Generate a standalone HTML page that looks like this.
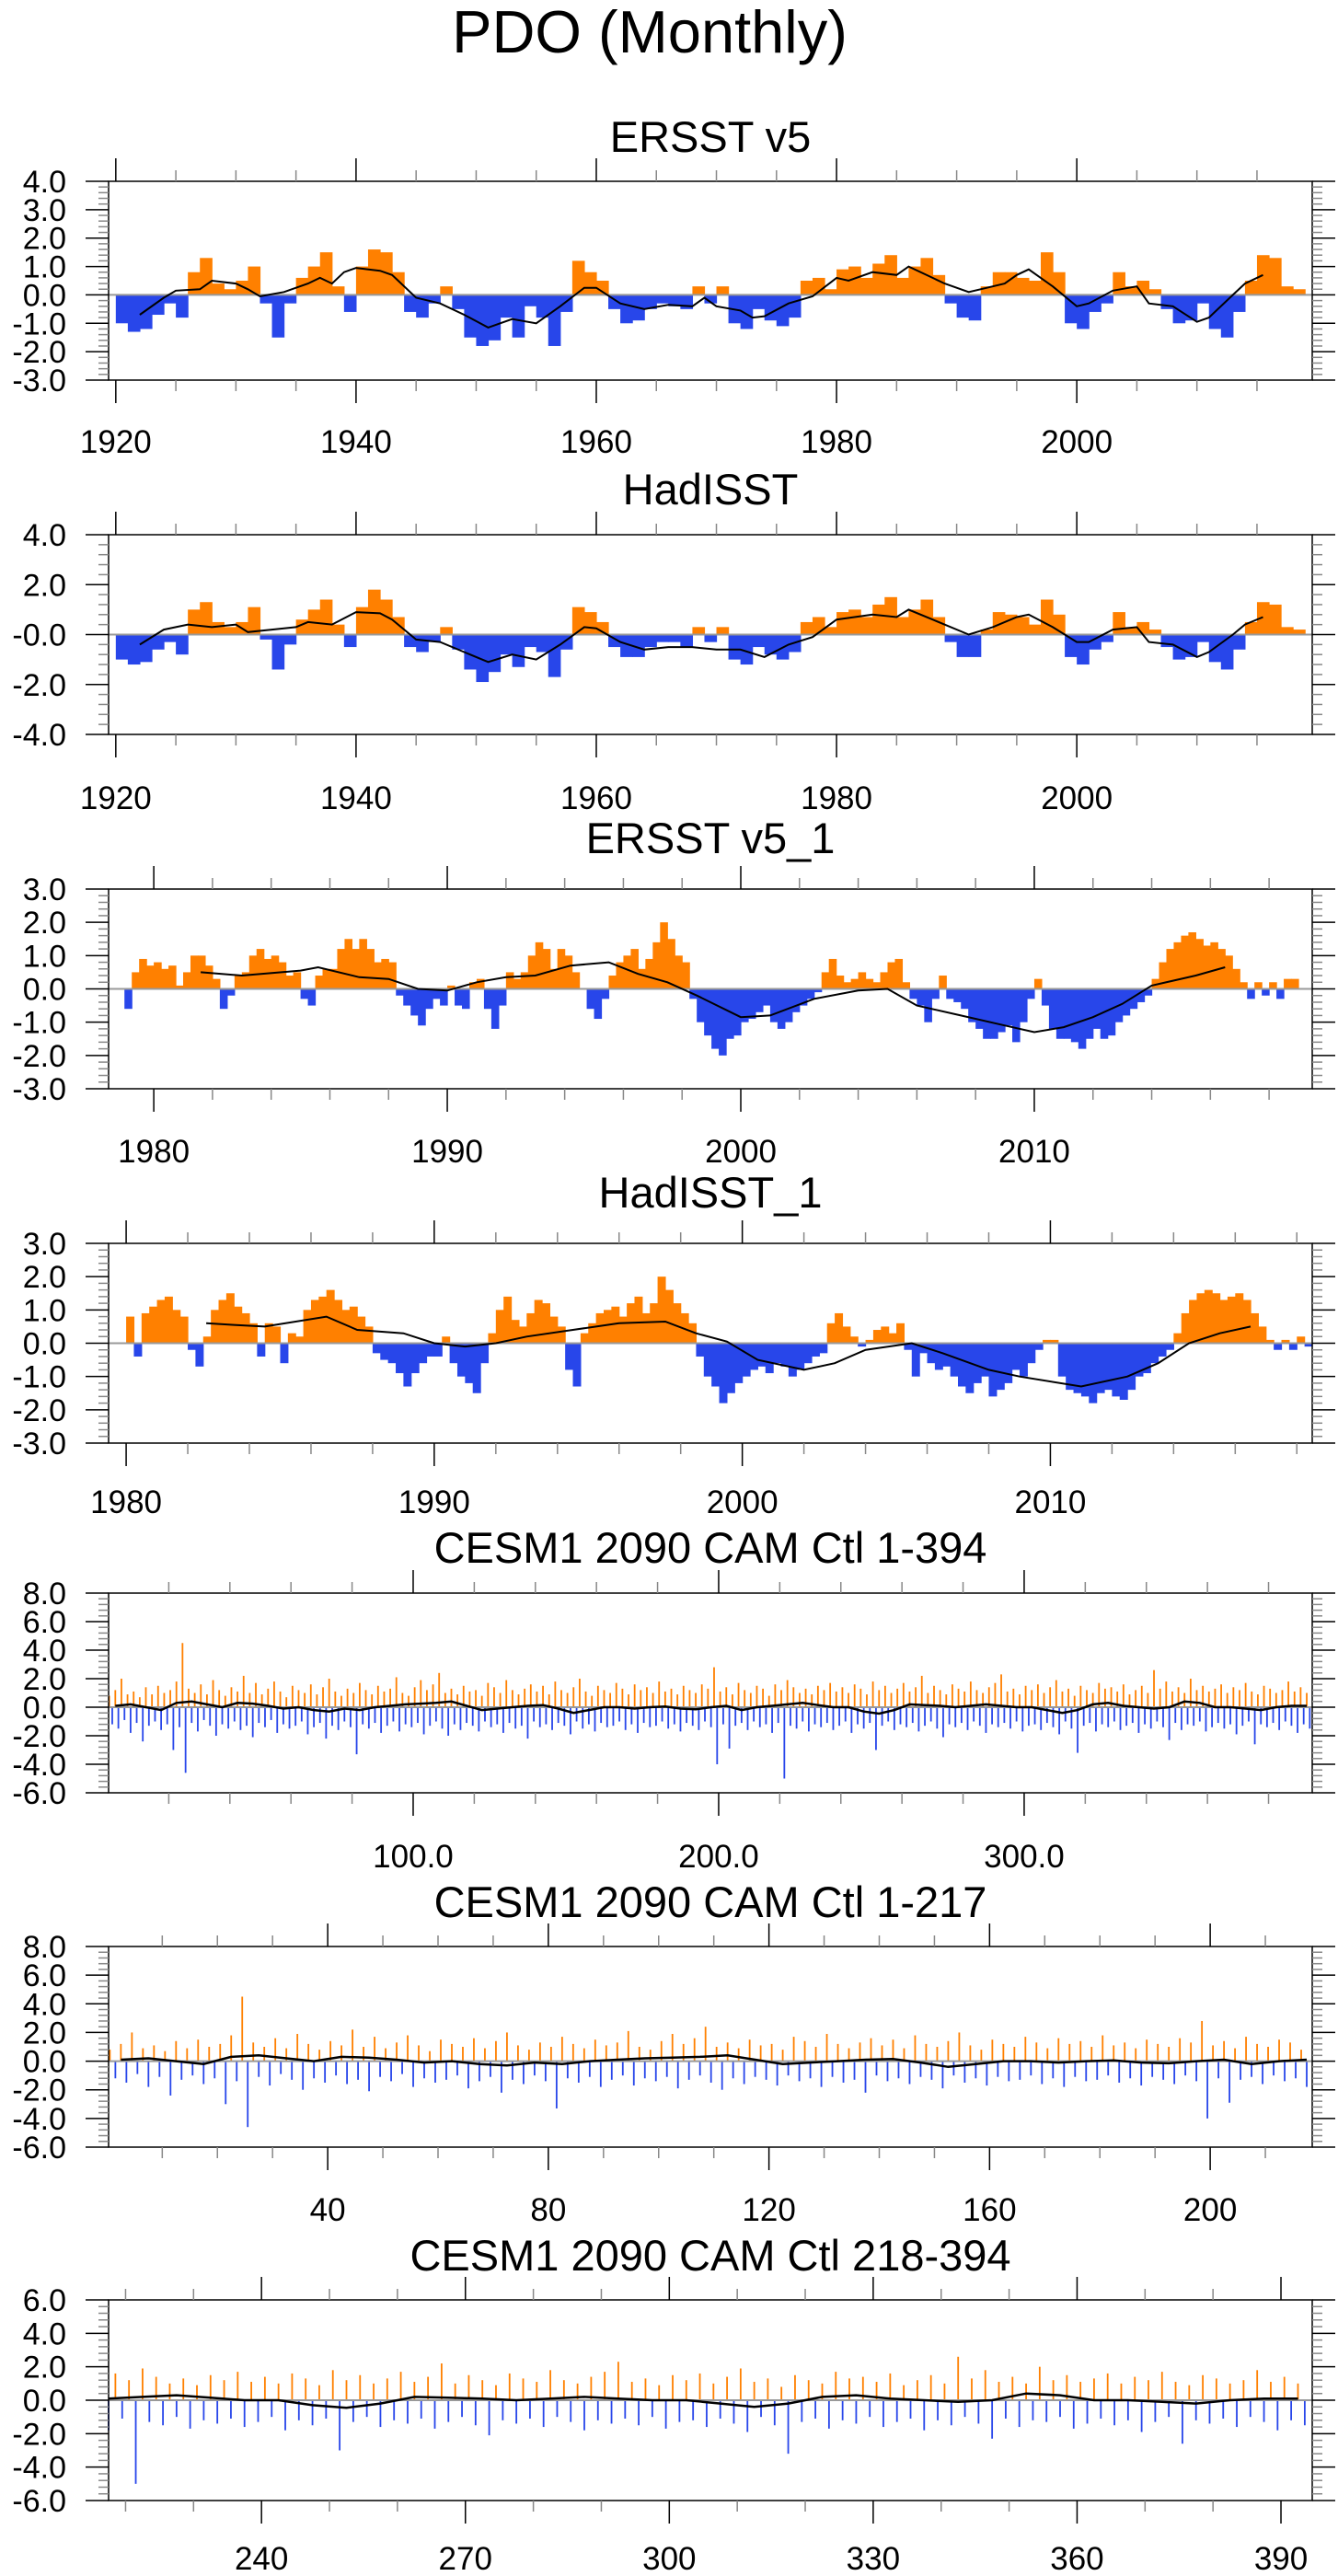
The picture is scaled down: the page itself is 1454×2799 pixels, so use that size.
<!DOCTYPE html>
<html><head><meta charset="utf-8"><style>
html,body{margin:0;padding:0;background:#fff}
svg{display:block}
text{font-family:"Liberation Sans",Arial,sans-serif;fill:#000}
</style></head><body>
<svg id="fig" width="1454" height="2799" viewBox="0 0 1454 2799" xmlns="http://www.w3.org/2000/svg">
<text x="706" y="57" font-size="65" text-anchor="middle">PDO (Monthly)</text>
</svg>
<script>
// ---- data ----
const ersstYears = [1920,2019];
const ersstVals = [-1.0,-1.3,-1.2,-0.7,-0.3,-0.8,0.8,1.3,0.4,0.2,0.5,1.0,-0.3,-1.5,-0.3,0.6,1.0,1.5,0.3,-0.6,1.0,1.6,1.5,0.8,-0.6,-0.8,-0.3,0.3,-0.5,-1.5,-1.8,-1.6,-0.8,-1.5,-0.4,-0.8,-1.8,-0.6,1.2,0.8,0.5,-0.5,-1.0,-0.9,-0.5,-0.3,-0.4,-0.5,0.3,-0.3,0.3,-1.0,-1.2,-0.5,-0.9,-1.1,-0.8,0.5,0.6,0.2,0.9,1.0,0.6,1.1,1.4,0.6,1.0,1.3,0.7,-0.3,-0.8,-0.9,0.3,0.8,0.8,0.6,0.5,1.5,0.8,-1.0,-1.2,-0.6,-0.3,0.8,0.3,0.5,0.2,-0.5,-1.0,-0.9,-0.3,-1.2,-1.5,-0.6,0.5,1.4,1.3,0.3,0.2];
const ersstSmoothX = [1922,1924,1925,1927,1928,1930,1931,1932,1934,1936,1937,1938,1939,1940,1942,1943,1945,1947,1949,1951,1953,1955,1957,1959,1960,1962,1964,1966,1968,1969,1970,1972,1973,1974,1976,1978,1980,1981,1983,1985,1986,1988,1989,1991,1993,1994,1995,1996,1998,2000,2001,2003,2005,2006,2008,2010,2011,2013,2014,2015.5];
const ersstSmoothY = [-0.7,-0.1,0.15,0.2,0.5,0.4,0.2,-0.05,0.1,0.4,0.6,0.4,0.8,0.95,0.85,0.7,-0.1,-0.3,-0.7,-1.15,-0.85,-1.0,-0.4,0.25,0.25,-0.3,-0.5,-0.35,-0.4,-0.1,-0.4,-0.55,-0.8,-0.75,-0.3,-0.05,0.6,0.5,0.8,0.7,1.0,0.6,0.4,0.1,0.3,0.4,0.7,0.9,0.3,-0.4,-0.3,0.15,0.3,-0.3,-0.4,-0.95,-0.8,0.0,0.4,0.7];

const hadVals = [-1.0,-1.2,-1.1,-0.6,-0.3,-0.8,1.0,1.3,0.5,0.3,0.5,1.1,-0.2,-1.4,-0.4,0.6,1.0,1.4,0.4,-0.5,1.1,1.8,1.4,0.7,-0.5,-0.7,-0.3,0.3,-0.6,-1.4,-1.9,-1.5,-0.8,-1.3,-0.5,-0.7,-1.7,-0.6,1.1,0.9,0.5,-0.5,-0.9,-0.9,-0.5,-0.3,-0.3,-0.5,0.3,-0.3,0.3,-1.0,-1.2,-0.5,-0.8,-1.0,-0.7,0.5,0.7,0.3,0.9,1.0,0.7,1.2,1.5,0.7,1.0,1.4,0.7,-0.3,-0.9,-0.9,0.2,0.9,0.8,0.7,0.4,1.4,0.8,-0.9,-1.2,-0.6,-0.3,0.9,0.3,0.5,0.2,-0.5,-1.0,-0.9,-0.3,-1.1,-1.4,-0.6,0.5,1.3,1.2,0.3,0.2];
const hadSmoothX = [1922,1924,1926,1928,1930,1931,1933,1935,1936,1938,1940,1942,1943,1945,1947,1949,1951,1953,1955,1957,1959,1960,1962,1964,1966,1968,1970,1972,1974,1976,1978,1980,1983,1985,1986,1988,1991,1993,1995,1996,1998,2000,2001,2003,2005,2006,2008,2010,2011,2013,2014,2015.5];
const hadSmoothY = [-0.4,0.2,0.4,0.3,0.4,0.1,0.2,0.3,0.5,0.4,0.9,0.85,0.6,-0.2,-0.3,-0.7,-1.1,-0.8,-1.0,-0.4,0.3,0.25,-0.3,-0.6,-0.5,-0.5,-0.6,-0.6,-0.9,-0.4,-0.1,0.6,0.8,0.7,1.0,0.6,0.0,0.3,0.7,0.8,0.3,-0.3,-0.3,0.2,0.3,-0.3,-0.4,-0.9,-0.7,0.0,0.4,0.7];

const ersst1Start = 1979.0;
const ersst1Vals = [-0.6,0.5,0.9,0.7, 0.8,0.6,0.7,0.1, 0.5,1.0,1.0,0.7, 0.3,-0.6,-0.2,0.4, 0.5,1.0,1.2,0.9, 1.0,0.8,0.4,0.5, -0.3,-0.5,0.4,0.6, 0.6,1.2,1.5,1.2, 1.5,1.2,0.8,0.9, 0.8,-0.2,-0.5,-0.8, -1.1,-0.6,-0.3,-0.5, 0.1,-0.5,-0.6,0.2, 0.3,-0.6,-1.2,-0.5, 0.5,0.3,0.5,1.0, 1.4,1.2,0.6,1.2, 1.0,0.5,0.0,-0.6, -0.9,-0.3,0.4,0.8, 1.0,1.2,0.6,0.9, 1.4,2.0,1.5,1.0, 0.8,-0.3,-1.0,-1.4, -1.8,-2.0,-1.5,-1.4, -1.0,-0.9,-0.7,-0.5, -1.0,-1.2,-1.0,-0.7, -0.5,-0.3,-0.1,0.5, 0.9,0.4,0.2,0.3, 0.5,0.3,0.2,0.5, 0.8,0.9,0.2,-0.3, -0.5,-1.0,-0.3,0.4, -0.3,-0.4,-0.6,-1.0, -1.2,-1.5,-1.5,-1.3, -1.1,-1.6,-1.0,-0.3, 0.3,-0.5,-1.2,-1.5, -1.5,-1.6,-1.8,-1.5, -1.2,-1.5,-1.4,-1.0, -0.8,-0.6,-0.4,-0.2, 0.3,0.8,1.2,1.4, 1.6,1.7,1.5,1.3, 1.4,1.2,1.0,0.6, 0.2,-0.3,0.2,-0.2, 0.2,-0.3,0.3,0.3];
const ersst1SmoothX = [1981.6,1983,1985,1985.6,1987,1988,1989,1990,1991,1992,1993,1994.2,1995.5,1996.5,1997.5,1998.5,2000,2001,2002.5,2004,2005,2006,2007.5,2009,2010,2011,2012,2013,2014,2015.5,2016.5];
const ersst1SmoothY = [0.5,0.4,0.55,0.65,0.35,0.3,0.0,-0.05,0.2,0.35,0.4,0.7,0.8,0.45,0.2,-0.2,-0.85,-0.8,-0.3,-0.05,0.0,-0.5,-0.8,-1.1,-1.3,-1.15,-0.85,-0.45,0.1,0.4,0.65];

const had1Start = 1980.0;
const had1Vals = [0.8,-0.4,0.9,1.1, 1.3,1.4,1.0,0.8, -0.2,-0.7,0.2,1.0, 1.3,1.5,1.1,0.9, 0.6,-0.4,0.6,0.5, -0.6,0.3,0.2,1.0, 1.3,1.4,1.6,1.3, 1.0,1.1,0.8,0.5, -0.3,-0.5,-0.6,-0.9, -1.3,-0.9,-0.6,-0.4, -0.4,0.2,-0.6,-1.0, -1.2,-1.5,-0.6,0.3, 1.0,1.4,0.7,0.5, 0.9,1.3,1.2,0.8, 0.5,-0.8,-1.3,0.3, 0.6,0.9,1.0,1.1, 0.8,1.2,1.4,0.9, 1.2,2.0,1.6,1.2, 0.9,0.6,-0.4,-1.0, -1.3,-1.8,-1.5,-1.2, -1.0,-0.8,-0.7,-0.9, -0.6,-0.7,-1.0,-0.8, -0.6,-0.4,-0.3,0.6, 0.9,0.5,0.2,-0.1, 0.1,0.4,0.5,0.3, 0.6,-0.2,-1.0,-0.3, -0.6,-0.8,-0.7,-1.0, -1.3,-1.5,-1.2,-1.0, -1.6,-1.4,-1.2,-0.8, -1.0,-0.6,-0.2,0.1, 0.1,-1.0,-1.4,-1.5, -1.6,-1.8,-1.5,-1.4, -1.6,-1.7,-1.4,-1.0, -0.9,-0.6,-0.4,-0.2, 0.3,0.9,1.3,1.5, 1.6,1.5,1.3,1.4, 1.5,1.3,0.9,0.5, 0.1,-0.2,0.1,-0.2, 0.2,-0.1];
const had1SmoothX = [1982.6,1983.5,1984.5,1986.5,1987.5,1989,1990,1991,1992,1993,1994.5,1996,1997.5,1998.5,1999.5,2000.5,2002,2003,2004,2005.5,2006.5,2008,2009,2011,2012.5,2013.5,2014.5,2015.5,2016.5];
const had1SmoothY = [0.6,0.55,0.5,0.8,0.4,0.3,0.0,-0.1,0.0,0.2,0.4,0.6,0.65,0.3,0.05,-0.5,-0.8,-0.6,-0.2,0.0,-0.3,-0.8,-1.0,-1.3,-1.0,-0.6,0.0,0.3,0.5];

// CESM control: per 2-year bin maxima / minima (years 0..394)
const cesmPos = [0.8,1.2,2.0,0.9,1.1,0.7,1.4,0.9,1.5,1.0, 1.2,1.8,4.5,1.3,1.0,1.6,0.9,1.9,1.2,0.8, 1.4,1.1,2.2,1.0,1.7,0.9,1.3,1.8,1.1,0.7, 1.5,1.2,1.0,1.6,0.9,1.4,2.0,1.1,0.8,1.3, 1.0,1.7,1.2,0.9,1.5,1.1,1.3,2.1,1.0,0.8, 1.4,1.9,1.2,1.6,2.4,1.0,1.3,0.9,1.5,1.1, 1.2,0.8,1.7,1.4,1.0,1.9,1.2,0.9,1.3,1.6, 1.1,1.5,0.9,1.8,1.2,1.0,1.4,2.0,1.1,0.8, 1.5,1.2,1.0,1.7,1.3,0.9,1.6,1.2,1.4,1.0, 1.8,1.1,1.3,0.9,1.5,1.2,1.0,1.6,1.3,2.8, 1.1,1.4,0.9,1.7,1.2,1.0,1.5,1.3,0.8,1.6, 1.2,1.9,1.4,1.0,1.3,0.9,1.5,1.2,1.7,1.1, 1.4,1.0,1.6,1.3,0.9,1.8,1.2,1.5,1.0,1.3, 1.7,1.1,1.4,2.2,1.0,1.5,1.2,0.9,1.6,1.3, 1.1,1.8,1.2,1.0,1.4,1.7,2.3,1.1,1.3,0.9, 1.5,1.2,1.6,1.0,1.4,1.9,1.1,1.3,0.8,1.5, 1.2,1.0,1.7,1.3,1.4,1.1,1.6,0.9,1.2,1.5, 1.0,2.6,1.3,1.8,1.1,1.4,1.0,2.0,1.2,1.5, 1.1,1.3,1.6,1.0,1.4,1.2,1.7,1.1,0.9,1.5, 1.3,1.0,1.2,1.8,1.1,1.4,1.0];
const cesmNeg = [-1.2,-1.5,-0.9,-1.8,-1.1,-2.4,-1.3,-1.0,-1.6,-1.2, -3.0,-1.4,-4.6,-1.1,-1.7,-0.9,-1.3,-2.0,-1.2,-1.5, -1.0,-1.6,-1.3,-2.1,-1.1,-1.4,-0.9,-1.8,-1.2,-1.5, -1.3,-1.0,-1.9,-1.4,-1.1,-2.2,-1.3,-1.6,-1.0,-1.4, -3.3,-1.2,-1.5,-1.1,-1.8,-1.3,-1.0,-1.7,-1.2,-1.4, -1.1,-1.9,-1.3,-1.0,-1.5,-2.0,-1.2,-1.6,-1.1,-1.3, -1.7,-1.0,-1.4,-1.2,-1.8,-1.1,-1.5,-1.3,-2.2,-1.0, -1.4,-1.2,-1.6,-1.1,-1.3,-1.9,-1.0,-1.5,-1.2,-1.7, -1.1,-1.4,-1.3,-1.0,-1.6,-1.2,-1.8,-1.1,-1.4,-1.3, -1.0,-1.5,-1.2,-1.7,-1.1,-1.3,-1.6,-1.0,-1.4,-4.0, -1.2,-2.9,-1.3,-1.1,-1.6,-1.0,-1.4,-1.2,-1.8,-1.1, -5.0,-1.3,-1.5,-1.0,-1.7,-1.2,-1.4,-1.1,-1.6,-1.3, -1.0,-1.8,-1.2,-1.5,-1.1,-3.0,-1.3,-1.0,-1.6,-1.2, -1.4,-1.1,-1.7,-1.3,-1.0,-1.5,-2.1,-1.2,-1.4,-1.1, -1.6,-1.0,-1.3,-1.8,-1.2,-1.4,-1.1,-1.5,-1.0,-1.7, -1.3,-1.2,-1.6,-1.1,-1.4,-1.9,-1.0,-1.5,-3.2,-1.3, -1.1,-1.7,-1.2,-1.4,-1.0,-1.6,-1.3,-1.1,-1.8,-1.2, -1.5,-1.0,-1.4,-2.3,-1.1,-1.6,-1.2,-1.3,-1.0,-1.7, -1.4,-1.1,-1.5,-1.2,-1.9,-1.3,-1.0,-2.6,-1.2,-1.4, -1.1,-1.6,-1.0,-1.3,-1.8,-1.2,-1.5];
const cesmSmooth = [0.1,0.2,0.0,-0.2,0.3,0.4,0.2,0.0,0.3,0.25, 0.1,-0.1,0.0,-0.2,-0.3,-0.1,-0.2,0.0,0.1,0.2, 0.25,0.3,0.4,0.1,-0.2,-0.1,0.0,0.1,0.15,-0.1, -0.4,-0.2,0.0,0.0,-0.1,0.0,0.05,-0.1,-0.15,0.0, 0.1,-0.2,0.0,0.1,0.2,0.3,0.15,0.0,0.0,-0.3, -0.45,-0.2,0.2,0.15,0.1,0.0,0.1,0.2,0.1,0.0, 0.0,-0.2,-0.4,-0.2,0.2,0.3,0.1,0.0,-0.1,0.0, 0.4,0.3,0.0,0.0,-0.1,-0.2,0.0,0.1,0.1];

const ORANGE = '#ff8000', BLUE = '#2846ea';
const NS = 'http://www.w3.org/2000/svg';
const svg = document.getElementById('fig');
function mk(tag, attrs, parent) {
  const e = document.createElementNS(NS, tag);
  for (const k in attrs) e.setAttribute(k, attrs[k]);
  (parent || svg).appendChild(e);
  return e;
}
const L = 118, R = 1426;

function panel(p) {
  const g = mk('g', {});
  
  
  const sx = v => L + (v - p.x0) / (p.x1 - p.x0) * (R - L);
  const sy = v => p.bot - (v - p.y0) / (p.y1 - p.y0) * (p.bot - p.top);
  const t = mk('text', {x: 772, y: p.titleY, 'font-size': 47, 'text-anchor': 'middle'}, g);
  t.textContent = p.title;
  
  
  const bars = mk('g', {}, g);
  
  
  p.drawBars(bars, sx, sy);
  const z = mk('line', {x1: L, x2: R, y1: sy(0), y2: sy(0), stroke: '#999', 'stroke-width': 2}, g);
  
  
  let pts = p.sX.map((x, i) => sx(x).toFixed(1) + ',' + sy(p.sY[i]).toFixed(1)).join(' ');
  const pl = mk('polyline', {points: pts, fill: 'none', stroke: '#000', 'stroke-width': p.lw || 2}, g);
  
  
  const fr = mk('rect', {x: L, y: p.top, width: R - L, height: p.bot - p.top, fill: 'none', stroke: '#000', 'stroke-width': 1.5}, g);
  
  
  for (let v = p.y0; v <= p.y1 + 1e-6; v += p.yMinor) {
    const isMaj = Math.abs(Math.round((v - p.y0) / p.yMajor) * p.yMajor - (v - p.y0)) < 1e-6;
    const y = sy(v), len = isMaj ? 25 : 11;
    mk('line', {x1: L - len, x2: L, y1: y, y2: y, stroke: isMaj ? '#000' : '#888', 'stroke-width': 1.5}, g);
    mk('line', {x1: R, x2: R + len, y1: y, y2: y, stroke: isMaj ? '#000' : '#888', 'stroke-width': 1.5}, g);
    if (isMaj) {
      const lt = mk('text', {x: 72, y: y + 12, 'font-size': 34, 'text-anchor': 'end'}, g);
      lt.textContent = v.toFixed(1);
      
      
    }
  }
  const first = Math.ceil(p.x0 / p.xMinor) * p.xMinor;
  for (let v = first; v <= p.x1; v += p.xMinor) {
    const isMaj = Math.abs(v / p.xMajor - Math.round(v / p.xMajor)) < 1e-6;
    const x = sx(v), len = isMaj ? 25 : 12;
    mk('line', {x1: x, x2: x, y1: p.top - len, y2: p.top, stroke: isMaj ? '#000' : '#888', 'stroke-width': 1.5}, g);
    mk('line', {x1: x, x2: x, y1: p.bot, y2: p.bot + len, stroke: isMaj ? '#000' : '#888', 'stroke-width': 1.5}, g);
    if (isMaj) {
      const lt = mk('text', {x: x, y: p.labY, 'font-size': 35, 'text-anchor': 'middle'}, g);
      lt.textContent = p.fmt ? p.fmt(v) : String(v);
      
      
    }
  }
}

function blockBars(start, step, vals) {
  return function (g, sx, sy) {
    vals.forEach((v, i) => {
      const x0 = sx(start + i * step), x1 = sx(start + (i + 1) * step);
      const y = sy(v), y0 = sy(0);
      const r = mk('rect', {x: x0, y: Math.min(y, y0), width: x1 - x0 + 0.6, height: Math.abs(y - y0), fill: v >= 0 ? ORANGE : BLUE}, g);
      
      
    });
  };
}
function cesmBars(lo, hi) {
  return function (g, sx, sy) {
    cesmPos.forEach((v, k) => {
      const yr = 2 * k + 0.5;
      if (yr < lo || yr > hi) return;
      const r = mk('rect', {x: sx(yr) - 0.9, y: sy(v), width: 1.8, height: sy(0) - sy(v), fill: ORANGE}, g);
      
      
    });
    cesmNeg.forEach((v, k) => {
      const yr = 2 * k + 1.5;
      if (yr < lo || yr > hi) return;
      const r = mk('rect', {x: sx(yr) - 0.9, y: sy(0), width: 1.8, height: sy(v) - sy(0), fill: BLUE}, g);
      
      
    });
  };
}
const cesmSX = cesmSmooth.map((v, i) => 5 * i + 2.5);

panel({name:'ersst-v5-panel', title:'ERSST v5', titleY:165, top:197, bot:413, y0:-3, y1:4, yMajor:1, yMinor:0.2,
  x0:1919.4, x1:2019.6, xMajor:20, xMinor:5, labY:492, drawBars: blockBars(ersstYears[0], 1, ersstVals), sX: ersstSmoothX, sY: ersstSmoothY});
panel({name:'hadisst-panel', title:'HadISST', titleY:548, top:581, bot:798, y0:-4, y1:4, yMajor:2, yMinor:0.4,
  x0:1919.4, x1:2019.6, xMajor:20, xMinor:5, labY:879, drawBars: blockBars(1920, 1, hadVals), sX: hadSmoothX, sY: hadSmoothY});
panel({name:'ersst-v5-1-panel', title:'ERSST v5_1', titleY:927, top:966, bot:1183, y0:-3, y1:3, yMajor:1, yMinor:0.2,
  x0:1978.46, x1:2019.47, xMajor:10, xMinor:2, labY:1263, drawBars: blockBars(ersst1Start, 0.25, ersst1Vals), sX: ersst1SmoothX, sY: ersst1SmoothY});
panel({name:'hadisst-1-panel', title:'HadISST_1', titleY:1312, top:1351, bot:1568, y0:-3, y1:3, yMajor:1, yMinor:0.2,
  x0:1979.43, x1:2018.5, xMajor:10, xMinor:2, labY:1644, drawBars: blockBars(had1Start, 0.25, had1Vals), sX: had1SmoothX, sY: had1SmoothY});
panel({name:'cesm-1-394-panel', title:'CESM1 2090 CAM Ctl 1-394', titleY:1698, top:1731, bot:1948, y0:-6, y1:8, yMajor:2, yMinor:0.4,
  x0:0.3, x1:394.3, xMajor:100, xMinor:20, labY:2029, fmt: v => v.toFixed(1), lw:2.5,
  drawBars: cesmBars(0, 395), sX: cesmSX, sY: cesmSmooth});
panel({name:'cesm-1-217-panel', title:'CESM1 2090 CAM Ctl 1-217', titleY:2083, top:2115, bot:2333, y0:-6, y1:8, yMajor:2, yMinor:0.4,
  x0:0.27, x1:218.5, xMajor:40, xMinor:10, labY:2413, lw:2.5,
  drawBars: cesmBars(0, 218), sX: cesmSX.filter(x => x <= 218), sY: cesmSmooth.filter((v, i) => cesmSX[i] <= 218)});
panel({name:'cesm-218-394-panel', title:'CESM1 2090 CAM Ctl 218-394', titleY:2467, top:2499, bot:2717, y0:-6, y1:6, yMajor:2, yMinor:0.4,
  x0:217.5, x1:394.6, xMajor:30, xMinor:10, labY:2792, lw:2.5,
  drawBars: cesmBars(217.5, 395), sX: cesmSX.filter(x => x >= 217.5), sY: cesmSmooth.filter((v, i) => cesmSX[i] >= 217.5)});
</script>
</body></html>
